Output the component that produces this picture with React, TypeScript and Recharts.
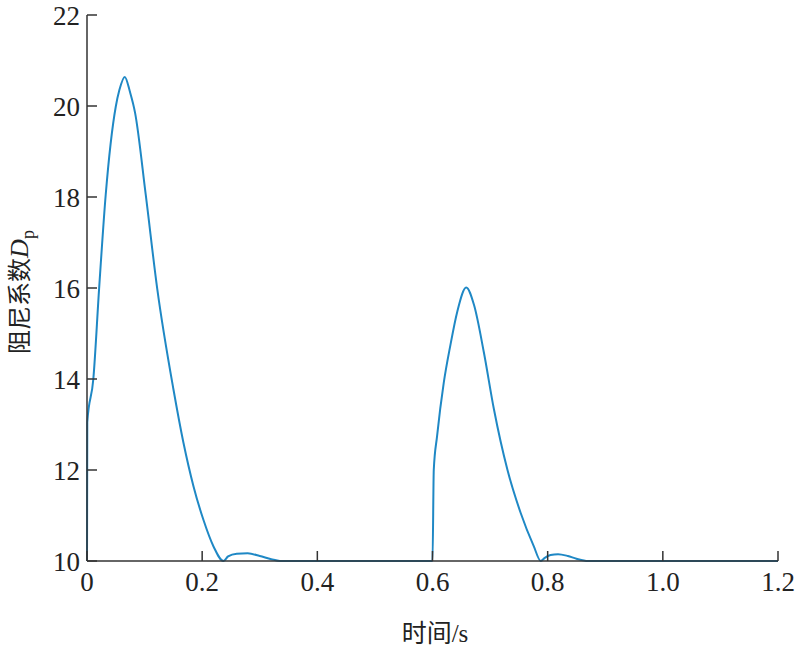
import { LineChart, Line, XAxis, YAxis } from "recharts";

// time (s) and damping coefficient Dp
const timeS = [
  0, 0.0005, 0.011, 0.021, 0.0325, 0.05, 0.0562, 0.0656, 0.0748, 0.0835,
  0.102, 0.122, 0.15, 0.1675, 0.185, 0.2023, 0.2197, 0.237, 0.245, 0.26, 0.279,
  0.3, 0.32, 0.335, 0.36, 0.4, 0.5, 0.6, 0.6022, 0.608, 0.6197, 0.631, 0.643, 0.6586,
  0.672, 0.689, 0.7066, 0.73, 0.753, 0.776, 0.788, 0.795, 0.805, 0.818, 0.835, 0.85,
  0.87, 0.9, 1.0, 1.1, 1.2,
];
const dampingDp = [
  10, 13.05, 14.0, 15.98, 18.05, 19.99, 20.35, 20.64, 20.3, 19.85,
  18.05, 15.98, 13.78, 12.6, 11.64, 10.9, 10.32, 10.0, 10.1, 10.16, 10.17,
  10.11, 10.04, 10.0, 10.0, 10.0, 10.0, 10.0, 12.0, 12.75, 13.93, 14.74, 15.48, 16.01,
  15.63, 14.6, 13.34, 12.01, 11.06, 10.32, 10.0, 10.07, 10.13, 10.15, 10.11, 10.05,
  10.0, 10.0, 10.0, 10.0, 10.0,
];
const xTicks = [0, 0.2, 0.4, 0.6, 0.8, 1.0, 1.2];
const yTicks = [10, 12, 14, 16, 18, 20, 22];

const data = timeS.map((t, i) => ({ t, dp: dampingDp[i] }));

const serif = "'Liberation Serif', 'Times New Roman', serif";
const cjk = "'Liberation Serif', 'Noto Sans CJK SC', serif";

function YTitle() {
  return (
    <text
      transform="translate(28,292) rotate(-90)"
      textAnchor="middle"
      fontFamily={cjk}
      fontSize={24}
      fill="#222"
    >
      <tspan>阻尼系数</tspan>
      <tspan fontStyle="italic" fontFamily={serif} fontSize={26}>D</tspan>
      <tspan fontFamily={serif} fontSize={18} dy={6}>p</tspan>
    </text>
  );
}

function XTitle() {
  return (
    <text x={435} y={642} textAnchor="middle" fontFamily={cjk} fontSize={25} fill="#222">
      时间/s
    </text>
  );
}

export default function App() {
  return (
    <div style={{ position: "absolute", left: 0, top: 0, background: "#fff" }}>
      <LineChart
        width={800}
        height={656}
        data={data}
        margin={{ top: 15, right: 22, left: 27, bottom: 65 }}
      >
        <XAxis
          dataKey="t"
          type="number"
          domain={[0, 1.2]}
          ticks={xTicks}
          tickFormatter={(v: number) => (v === 0 ? "0" : v.toFixed(1))}
          height={30}
          stroke="#333"
          strokeWidth={1.5}
          tickSize={-10}
          tickMargin={21}
          tick={{ fill: "#222", fontFamily: serif, fontSize: 27 }}
          label={<XTitle />}
        />
        <YAxis
          type="number"
          domain={[10, 22]}
          ticks={yTicks}
          width={60}
          stroke="#333"
          strokeWidth={1.5}
          tickSize={-10}
          tickMargin={17}
          tick={{ fill: "#222", fontFamily: serif, fontSize: 27 }}
          label={<YTitle />}
        />
        <Line
          type="monotone"
          dataKey="dp"
          stroke="#1f88c5"
          strokeWidth={2}
          dot={false}
          isAnimationActive={false}
        />
      </LineChart>
    </div>
  );
}
